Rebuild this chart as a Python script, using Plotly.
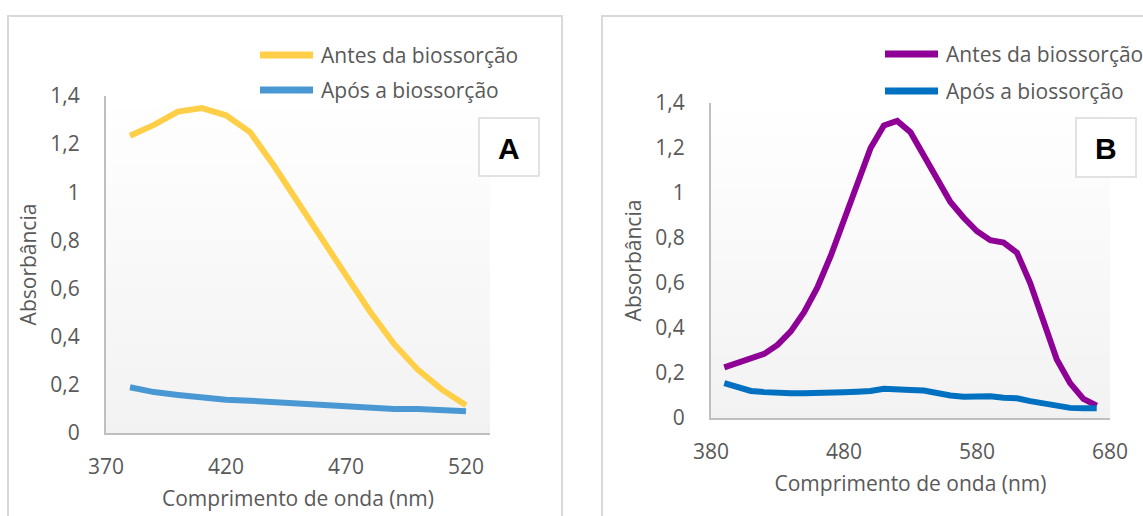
import plotly.graph_objects as go

# ---- data -------------------------------------------------------------
wl_a = [380, 390, 400, 410, 420, 430, 440, 450, 460, 470, 480, 490, 500, 510, 520]
antes_a = [1.235, 1.28, 1.335, 1.35, 1.32, 1.25, 1.11, 0.955, 0.805, 0.655,
           0.505, 0.37, 0.262, 0.18, 0.115]
apos_a = [0.19, 0.17, 0.158, 0.145, 0.138, 0.134, 0.128, 0.121, 0.114, 0.109,
          0.105, 0.1, 0.1, 0.094, 0.09]

wl_b = [390, 400, 410, 420, 430, 440, 450, 460, 470, 480, 490, 500, 510, 520,
        530, 540, 550, 560, 570, 580, 590, 600, 610, 620, 630, 640, 650, 660, 670]
antes_b = [0.225, 0.245, 0.26, 0.285, 0.325, 0.385, 0.47, 0.58, 0.72, 0.88,
           1.05, 1.2, 1.3, 1.32, 1.27, 1.17, 1.06, 0.96, 0.89, 0.83,
           0.79, 0.78, 0.735, 0.6, 0.43, 0.26, 0.155, 0.085, 0.055]
apos_b = [0.155, 0.14, 0.12, 0.115, 0.11, 0.11, 0.11, 0.11, 0.11, 0.115,
          0.117, 0.12, 0.13, 0.13, 0.125, 0.122, 0.11, 0.1, 0.095, 0.097,
          0.097, 0.09, 0.088, 0.075, 0.065, 0.055, 0.045, 0.043, 0.043]

series_names = ["Antes da biossorção", "Após a biossorção"]
panel_labels = ["A", "B"]

y_ticks = [0, 0.2, 0.4, 0.6, 0.8, 1.0, 1.2, 1.4]
y_tick_labels = ["0", "0,2", "0,4", "0,6", "0,8", "1", "1,2", "1,4"]
x_ticks_a = [370, 420, 470, 520]
x_ticks_b = [380, 480, 580, 680]

x_title = "Comprimento de onda (nm)"
y_title = "Absorbância"

# ---- style ------------------------------------------------------------
W, H = 1143, 516
FONT = "Open Sans"
TXT = "#595959"
AXIS = "#BFBFBF"
FRAME = "#D9D9D9"
colors_a = ["#FFCF48", "#4A98D3"]
colors_b = ["#8E0096", "#0070C0"]
LW = 6


def px(x):
    return x / W


def py(y):
    return 1 - y / H


fig = go.Figure()

fig.add_trace(go.Scatter(x=wl_a, y=antes_a, mode="lines", name=series_names[0],
                         line=dict(color=colors_a[0], width=LW),
                         xaxis="x", yaxis="y", showlegend=False))
fig.add_trace(go.Scatter(x=wl_a, y=apos_a, mode="lines", name=series_names[1],
                         line=dict(color=colors_a[1], width=LW),
                         xaxis="x", yaxis="y", showlegend=False))
fig.add_trace(go.Scatter(x=wl_b, y=antes_b, mode="lines", name=series_names[0],
                         line=dict(color=colors_b[0], width=LW),
                         xaxis="x2", yaxis="y2", showlegend=False))
fig.add_trace(go.Scatter(x=wl_b, y=apos_b, mode="lines", name=series_names[1],
                         line=dict(color=colors_b[1], width=LW),
                         xaxis="x2", yaxis="y2", showlegend=False))

tickfont = dict(family=FONT, size=21, color=TXT)
titlefont = dict(family=FONT, size=21, color=TXT)


def xaxis_cfg(domain, rng, ticks, anchor):
    return dict(domain=domain, range=rng, tickvals=ticks,
                ticktext=[str(t) for t in ticks], anchor=anchor,
                showgrid=False, zeroline=False, showline=True,
                linecolor=AXIS, linewidth=2, ticks="", automargin=False,
                tickfont=tickfont, ticklabelstandoff=14,
                title=dict(text=x_title, font=titlefont, standoff=12))


def yaxis_cfg(domain, anchor):
    return dict(domain=domain, range=[0, 1.4], tickvals=y_ticks,
                ticktext=y_tick_labels, anchor=anchor,
                showgrid=False, zeroline=False, showline=True,
                linecolor=AXIS, linewidth=2, ticks="", automargin=False,
                tickfont=tickfont, ticklabelstandoff=20,
                title=dict(text=y_title, font=titlefont, standoff=8))


shapes = []
annotations = []

# panel frames
shapes.append(dict(type="rect", xref="paper", yref="paper",
                   x0=px(8), x1=px(562), y0=py(530), y1=py(16),
                   line=dict(color=FRAME, width=2), fillcolor="rgba(0,0,0,0)",
                   layer="below"))
shapes.append(dict(type="rect", xref="paper", yref="paper",
                   x0=px(602), x1=px(1160), y0=py(530), y1=py(16),
                   line=dict(color=FRAME, width=2), fillcolor="rgba(0,0,0,0)",
                   layer="below"))

# vertical gradient in the plot areas (light grey at the bottom to white at the top)
N = 30
for xr, yr in (("x domain", "y domain"), ("x2 domain", "y2 domain")):
    for i in range(N):
        t = (i + 0.5) / N
        v = int(round(242 + (255 - 242) * t))
        shapes.append(dict(type="rect", xref=xr, yref=yr,
                           x0=0, x1=1, y0=i / N, y1=(i + 1) / N + 0.002,
                           line=dict(width=0),
                           fillcolor=f"rgb({v},{v},{v})", layer="below"))

# legends drawn as line samples with labels
legend_specs = [
    (260, 313, 319, [55, 90], colors_a),
    (885, 938, 944, [54, 91], colors_b),
]
for x0, x1, xt, ys, cols in legend_specs:
    for name, yy, c in zip(series_names, ys, cols):
        shapes.append(dict(type="line", xref="paper", yref="paper",
                           x0=px(x0), x1=px(x1), y0=py(yy), y1=py(yy),
                           line=dict(color=c, width=7)))
        annotations.append(dict(text=name, xref="paper", yref="paper",
                                x=px(xt), y=py(yy), xanchor="left",
                                yanchor="middle", showarrow=False,
                                font=dict(family=FONT, size=21, color=TXT)))

# panel label boxes
for lab, (bx0, bx1, by0, by1) in zip(panel_labels,
                                     [(479, 539, 118, 176), (1076, 1136, 118, 177)]):
    shapes.append(dict(type="rect", xref="paper", yref="paper",
                       x0=px(bx0), x1=px(bx1), y0=py(by1), y1=py(by0),
                       line=dict(color=FRAME, width=1.5), fillcolor="white"))
    annotations.append(dict(text=f"<b>{lab}</b>", xref="paper", yref="paper",
                            x=px((bx0 + bx1) / 2), y=py((by0 + by1) / 2 + 1),
                            xanchor="center", yanchor="middle", showarrow=False,
                            font=dict(family="Liberation Sans", size=30,
                                      color="black")))

fig.update_layout(
    width=W, height=H,
    margin=dict(l=0, r=0, t=0, b=0, autoexpand=False),
    paper_bgcolor="white", plot_bgcolor="white",
    separators=", ",
    xaxis=xaxis_cfg([px(106), px(490)], [370, 530], x_ticks_a, "y"),
    yaxis=yaxis_cfg([py(433), py(96)], "x"),
    xaxis2=xaxis_cfg([px(711), px(1110)], [380, 680], x_ticks_b, "y2"),
    yaxis2=yaxis_cfg([py(418), py(103)], "x2"),
    shapes=shapes,
    annotations=annotations,
    showlegend=False,
)

fig.write_html("out.html")
